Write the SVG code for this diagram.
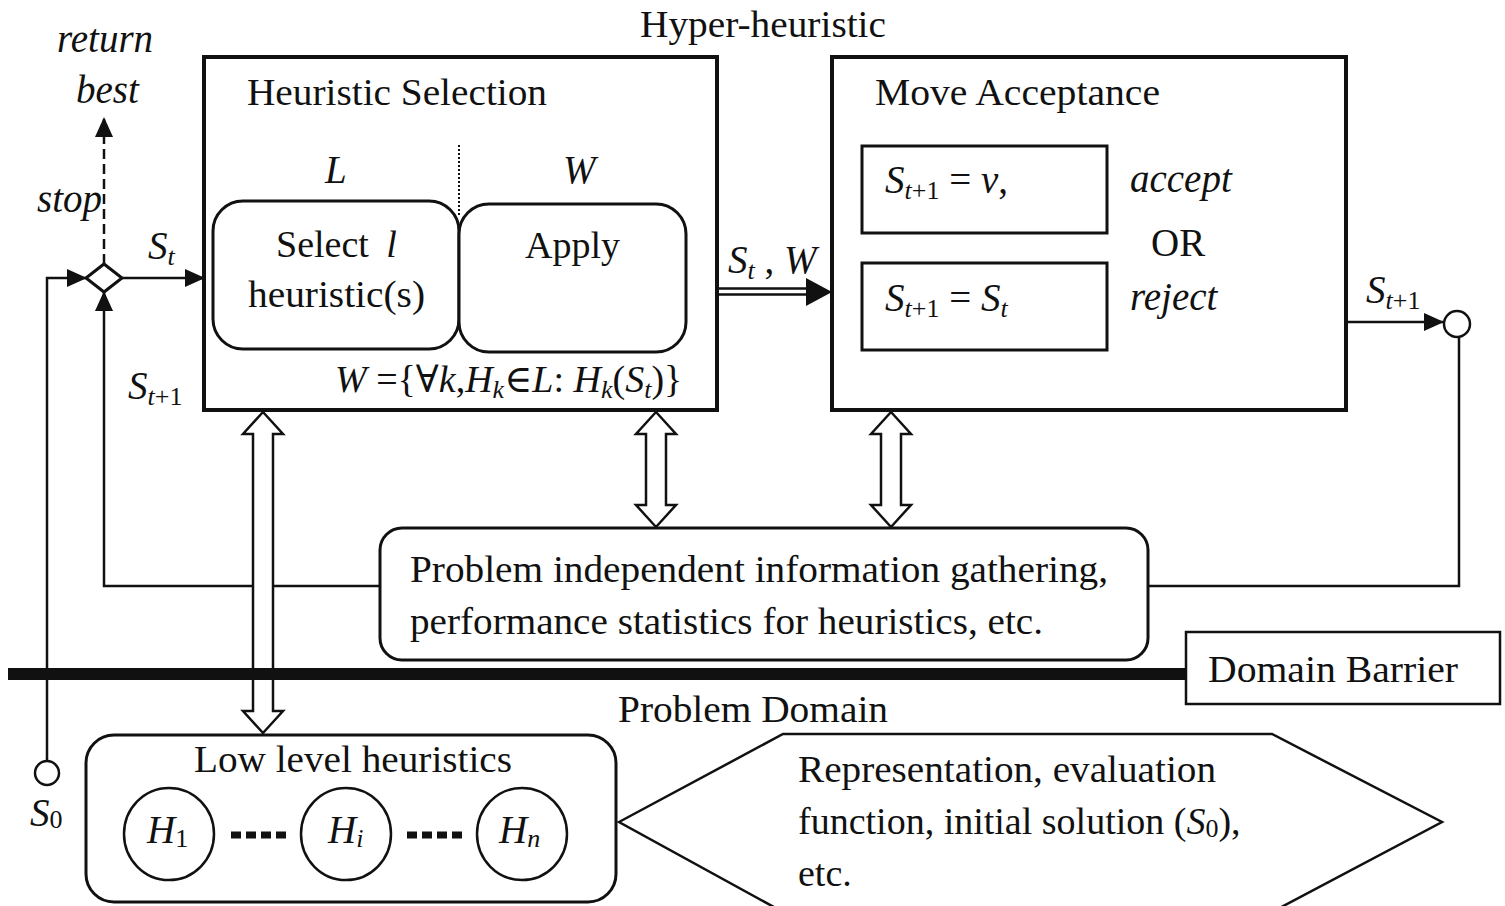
<svg xmlns="http://www.w3.org/2000/svg" width="1505" height="906" viewBox="0 0 1505 906">
<style>
.t{font-family:"Liberation Serif","Times New Roman","DejaVu Serif",serif;fill:#111;font-size:38px}
.m{font-size:39px}
.i{font-style:italic}
.sub{font-size:26px}
.box{fill:#fff;stroke:#111;stroke-width:4}
.ib{fill:#fff;stroke:#111;stroke-width:3}
.ln{fill:none;stroke:#111;stroke-width:2.5}
.hol{fill:#fff;stroke:#111;stroke-width:2.5;stroke-linejoin:miter}
</style>
<defs>
<marker id="ah" markerUnits="userSpaceOnUse" markerWidth="20" markerHeight="18" refX="19" refY="9" orient="auto"><path d="M0,0 L20,9 L0,18 z" fill="#111"/></marker>
</defs>
<rect width="1505" height="906" fill="#fff"/>

<text class="t" x="640" y="37" textLength="246" lengthAdjust="spacingAndGlyphs">Hyper-heuristic</text>
<text class="t" x="618" y="722" textLength="270" lengthAdjust="spacingAndGlyphs">Problem Domain</text>

<g id="connectors">
  <path class="ln" d="M47,761 V278 H86" stroke-width="3" marker-end="url(#ah)"/>
  <path class="ln" d="M122,278 H204" stroke-width="3" marker-end="url(#ah)"/>
  <path class="ln" d="M104,264 V118" stroke-width="3" stroke-dasharray="10,5" marker-end="url(#ah)"/>
  <path class="ln" d="M380,586 H104 V292" stroke-width="3" marker-end="url(#ah)"/>
  <path class="ln" d="M1346,322 H1443" stroke-width="3.5" marker-end="url(#ah)"/>
  <path class="ln" d="M1459,337 V586 H1148"/>
  <path class="ln" d="M718,288.5 H812 M718,294.5 H812" stroke-width="2.5"/>
  <polygon points="806,278 832,292 806,306" fill="#111"/>
  <polygon class="hol" points="656,412 676,434 666,434 666,505 676,505 656,527 636,505 646,505 646,434 636,434"/>
  <polygon class="hol" points="891,412 911,434 901,434 901,505 911,505 891,527 871,505 881,505 881,434 871,434"/>
</g>

<g id="labels">
  <text class="t m i" x="57" y="52">return</text>
  <text class="t m i" x="76" y="103">best</text>
  <text class="t m i" x="37" y="212">stop</text>
  <text class="t m i" x="148" y="259">S<tspan class="sub" dy="6">t</tspan></text>
  <text class="t m i" x="128" y="399">S<tspan class="sub" dy="6">t</tspan><tspan class="sub" font-style="normal">+1</tspan></text>
  <text class="t m i" x="728" y="273">S<tspan class="sub" dy="6">t</tspan><tspan dy="-6" font-style="normal"> , </tspan>W</text>
  <text class="t m i" x="1366" y="303">S<tspan class="sub" dy="6">t</tspan><tspan class="sub" font-style="normal">+1</tspan></text>
</g>

<g id="decision">
  <polygon points="86,278 104,264 122,278 104,292" fill="#fff" stroke="#111" stroke-width="3"/>
</g>

<g id="heuristic-selection">
  <rect class="box" x="204" y="57" width="513" height="353"/>
  <text class="t" x="247" y="105" textLength="300" lengthAdjust="spacingAndGlyphs">Heuristic Selection</text>
  <text class="t m i" x="325" y="183">L</text>
  <text class="t m i" x="563" y="183">W</text>
  <line x1="459" y1="145" x2="459" y2="215" stroke="#111" stroke-width="2" stroke-dasharray="2,2"/>
  <rect class="ib" x="213" y="201" width="246" height="148" rx="30"/>
  <rect class="ib" x="459" y="204" width="227" height="148" rx="30"/>
  <text class="t" x="276" y="257">Select <tspan class="i" dx="8">l</tspan></text>
  <text class="t" x="248" y="307" textLength="177" lengthAdjust="spacingAndGlyphs">heuristic(s)</text>
  <text class="t" x="525" y="258" textLength="95" lengthAdjust="spacingAndGlyphs">Apply</text>
  <text class="t" x="335" y="392"><tspan class="i">W</tspan> ={∀<tspan class="i">k</tspan>,<tspan class="i">H</tspan><tspan class="i sub" dy="6">k</tspan><tspan dy="-6">∈</tspan><tspan class="i">L</tspan>: <tspan class="i">H</tspan><tspan class="i sub" dy="6">k</tspan><tspan dy="-6">(</tspan><tspan class="i">S</tspan><tspan class="i sub" dy="6">t</tspan><tspan dy="-6">)}</tspan></text>
</g>

<g id="move-acceptance">
  <rect class="box" x="832" y="57" width="514" height="353"/>
  <text class="t" x="875" y="105" textLength="285" lengthAdjust="spacingAndGlyphs">Move Acceptance</text>
  <rect class="ib" x="862" y="146" width="245" height="87"/>
  <rect class="ib" x="862" y="263" width="245" height="87"/>
  <text class="t m" x="885" y="193"><tspan class="i">S</tspan><tspan class="i sub" dy="6">t</tspan><tspan class="sub" font-style="normal">+1</tspan><tspan dy="-6"> = </tspan><tspan class="i">v</tspan>,</text>
  <text class="t m" x="885" y="311"><tspan class="i">S</tspan><tspan class="i sub" dy="6">t</tspan><tspan class="sub">+1</tspan><tspan dy="-6"> = </tspan><tspan class="i">S</tspan><tspan class="i sub" dy="6">t</tspan></text>
  <text class="t m i" x="1130" y="192">accept</text>
  <text class="t m" x="1151" y="256">OR</text>
  <text class="t m i" x="1130" y="310">reject</text>
</g>

<g id="output-node">
  <circle cx="1457" cy="324" r="13" fill="#fff" stroke="#111" stroke-width="2.5"/>
</g>

<g id="llh-arrow">
  <polygon class="hol" points="263,412 283,434 273,434 273,711 283,711 263,733 243,711 253,711 253,434 243,434"/>
</g>

<g id="info-gathering">
  <rect class="ib" x="380" y="528" width="768" height="132" rx="22" stroke-width="2.5"/>
  <text class="t" x="410" y="582" textLength="698" lengthAdjust="spacingAndGlyphs">Problem independent information gathering,</text>
  <text class="t" x="410" y="634" textLength="633" lengthAdjust="spacingAndGlyphs">performance statistics for heuristics, etc.</text>
</g>

<g id="domain-barrier">
  <rect x="8" y="668" width="1178" height="12" fill="#111"/>
  <rect x="1186" y="632" width="314" height="72" fill="#fff" stroke="#111" stroke-width="2.5"/>
  <text class="t" x="1208" y="682" textLength="250" lengthAdjust="spacingAndGlyphs">Domain Barrier</text>
</g>

<g id="s0">
  <circle cx="47" cy="773" r="12" fill="#fff" stroke="#111" stroke-width="2.5"/>
  <text class="t m i" x="30" y="826">S<tspan class="sub" font-style="normal" dy="2">0</tspan></text>
</g>

<g id="low-level-heuristics">
  <rect class="ib" x="86" y="735" width="530" height="167" rx="28" stroke-width="2.5"/>
  <text class="t" x="194" y="772" textLength="318" lengthAdjust="spacingAndGlyphs">Low level heuristics</text>
  <ellipse cx="169" cy="834" rx="45" ry="46" fill="#fff" stroke="#111" stroke-width="2.5"/>
  <ellipse cx="346" cy="834" rx="45" ry="46" fill="#fff" stroke="#111" stroke-width="2.5"/>
  <ellipse cx="522" cy="834" rx="45" ry="46" fill="#fff" stroke="#111" stroke-width="2.5"/>
  <text class="t m i" x="147" y="843">H<tspan class="sub" font-style="normal" dy="4">1</tspan></text>
  <text class="t m i" x="328" y="843">H<tspan class="sub" dy="4">i</tspan></text>
  <text class="t m i" x="499" y="843">H<tspan class="sub" dy="4">n</tspan></text>
  <line x1="231" y1="835" x2="287" y2="835" stroke="#111" stroke-width="7" stroke-dasharray="10,5"/>
  <line x1="407" y1="835" x2="463" y2="835" stroke="#111" stroke-width="7" stroke-dasharray="10,5"/>
</g>

<g id="problem-domain">
  <polygon points="619,822 783,734 1272,734 1442,822 1272,912 783,912" fill="#fff" stroke="#111" stroke-width="2.5"/>
  <text class="t" x="798" y="782" textLength="418" lengthAdjust="spacingAndGlyphs">Representation, evaluation</text>
  <text class="t" x="798" y="834">function, initial solution (<tspan class="i">S</tspan><tspan class="sub" dy="3">0</tspan><tspan dy="-3">),</tspan></text>
  <text class="t" x="798" y="886">etc.</text>
</g>
</svg>
